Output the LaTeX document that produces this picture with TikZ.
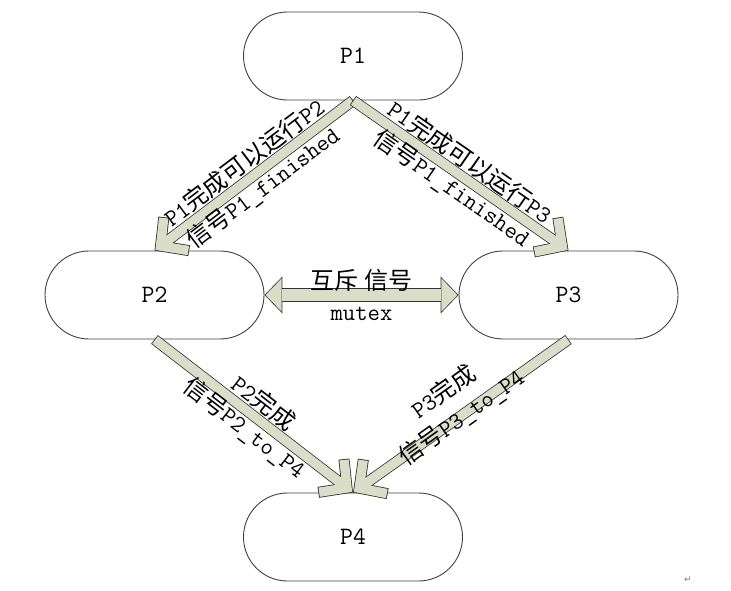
\documentclass[tikz,border=0pt]{standalone}
\usepackage{fontspec}
\newfontfamily\cjk{Noto Sans CJK SC}
\newfontfamily\markfont{DejaVu Sans}
\usetikzlibrary{arrows.meta,shapes.misc}
\definecolor{arrowfill}{RGB}{218,222,200}

\begin{document}
\begin{tikzpicture}[x=1pt,y=-1pt,line join=miter,
    every node/.style={inner sep=1pt},
    proc/.style={draw=black!75,line width=0.9pt,rounded rectangle,
      minimum width=221pt,minimum height=88pt,font=\ttfamily\fontsize{25}{30}\selectfont},
    fat/.style={draw=black!80,line width=11pt,
      -{Straight Barb[sharp,length=20pt,width=42pt]},
      postaction={draw=arrowfill,line width=9.4pt,shorten <=0.8pt,shorten >=1.1pt,
        -{Straight Barb[sharp,length=19.4pt,width=40.8pt]}}},
    dbl/.style={draw=black!80,line width=13.6pt,
      {Triangle[length=18pt,width=37pt,line width=0pt]}-{Triangle[length=18pt,width=37pt,line width=0pt]},
      postaction={draw=arrowfill,line width=12pt,shorten <=1.1pt,shorten >=1.1pt,
        {Triangle[length=16.1pt,width=33.1pt,line width=0pt]}-{Triangle[length=16.1pt,width=33.1pt,line width=0pt]}}},
    lbl/.style={align=center,font=\ttfamily\fontsize{24}{31}\selectfont}]
  \useasboundingbox (0,0) rectangle (731,590);
  % processes
  \node[proc] (P1) at (353,56) {P1};
  \node[proc] (P2) at (154.5,295) {P2};
  \node[proc] (P3) at (568.5,295) {P3};
  \node[proc] (P4) at (353,537) {P4};
  % signals
  \draw[fat] (P1.south) -- (P2.north)
    node[lbl,midway,sloped] {P1{\cjk 完成可以运行}P2\\{\cjk 信号}P1\_finished};
  \draw[fat] (P1.south) -- (P3.north)
    node[lbl,midway,sloped] {P1{\cjk 完成可以运行}P3\\{\cjk 信号}P1\_finished};
  \draw[fat] (P2.south) -- (P4.north)
    node[lbl,midway,sloped] {P2{\cjk 完成}\\{\cjk 信号}P2\_to\_P4};
  \draw[fat] (P3.south) -- (P4.north)
    node[lbl,midway,sloped,yshift=14pt] {P3{\cjk 完成}\\{\cjk 信号}P3\_to\_P4};
  \draw[dbl] (P2.east) -- (P3.west)
    node[lbl,midway] {{\cjk 互斥 信号}\\mutex};
  \node[text=black!55,font=\markfont\fontsize{9}{9}\selectfont] (ret) at (688,580) {↵};
\end{tikzpicture}
\end{document}
